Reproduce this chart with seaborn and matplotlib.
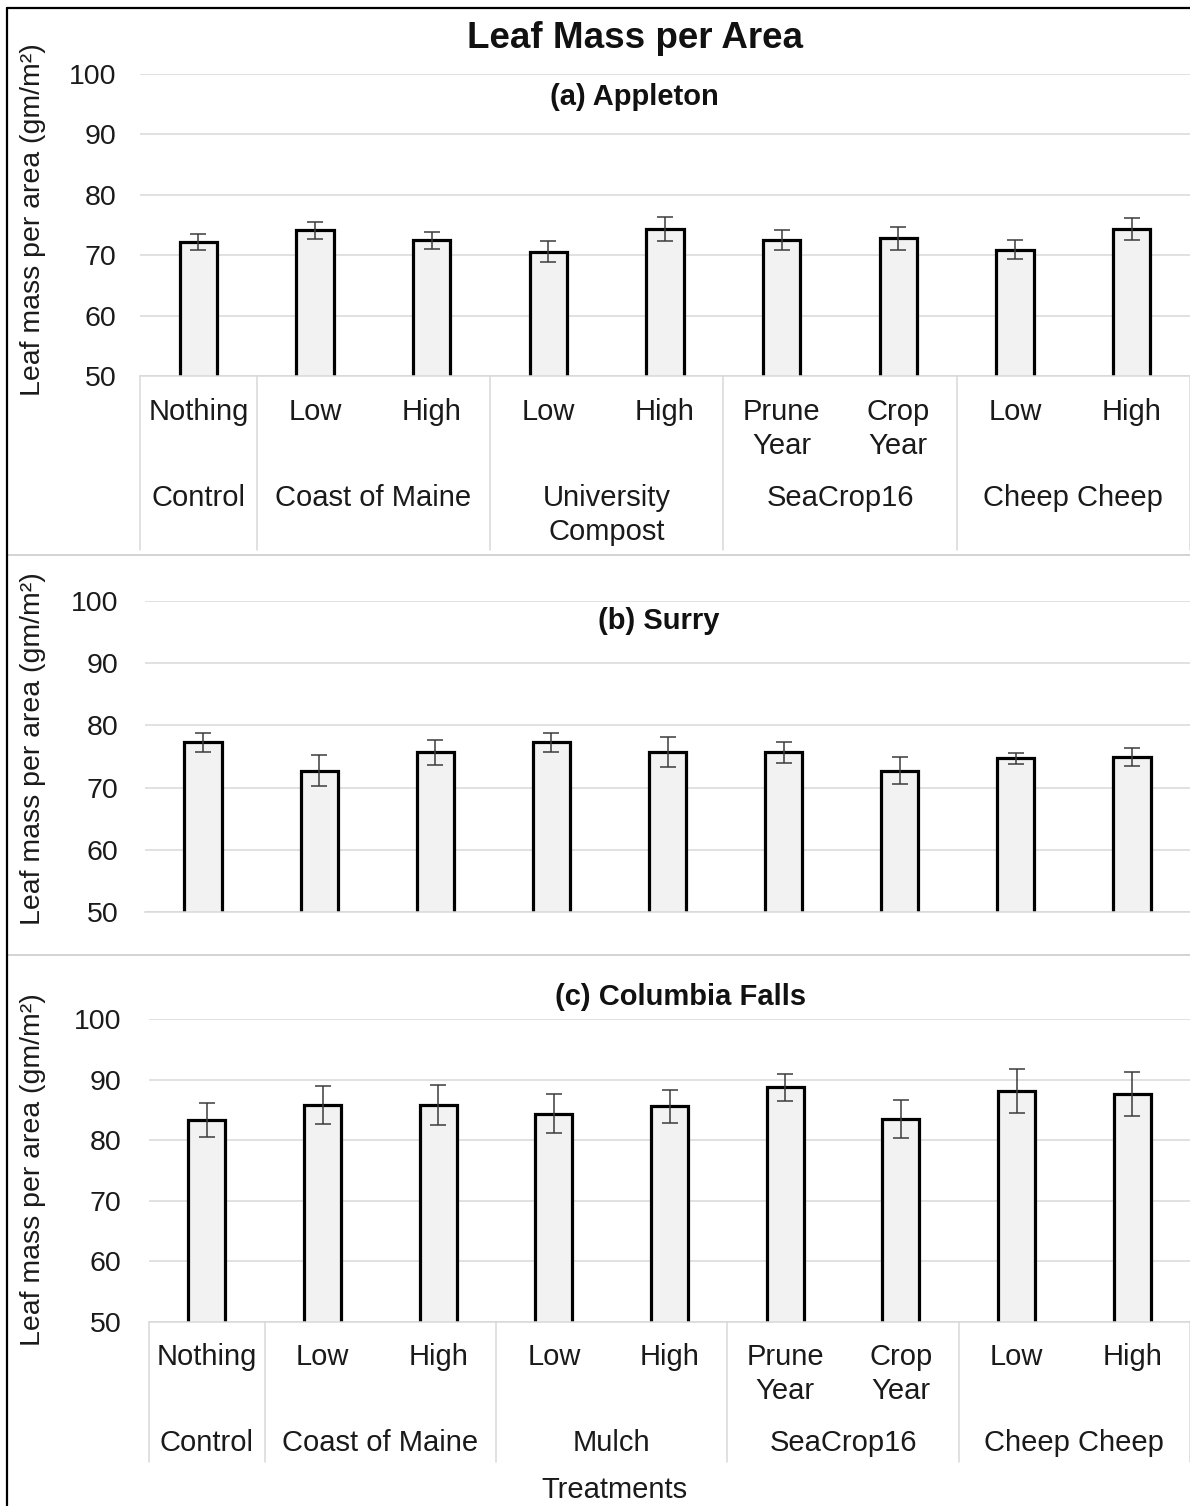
import numpy as np
import pandas as pd
import seaborn as sns
import matplotlib
matplotlib.use("Agg")
import matplotlib.pyplot as plt
from matplotlib.lines import Line2D
from matplotlib.transforms import blended_transform_factory

# ---- data -------------------------------------------------------------
treatments = ["Nothing", "Low", "High", "Low", "High",
              "Prune\nYear", "Crop\nYear", "Low", "High"]
groups_a = ["Control", "Coast of Maine", "Coast of Maine",
            "University\nCompost", "University\nCompost",
            "SeaCrop16", "SeaCrop16", "Cheep Cheep", "Cheep Cheep"]
groups_c = ["Control", "Coast of Maine", "Coast of Maine",
            "Mulch", "Mulch",
            "SeaCrop16", "SeaCrop16", "Cheep Cheep", "Cheep Cheep"]

appleton_mean = [72.2, 74.1, 72.5, 70.6, 74.3, 72.5, 72.8, 70.9, 74.3]
appleton_err = [1.3, 1.4, 1.4, 1.7, 2.0, 1.7, 1.9, 1.6, 1.8]
surry_mean = [77.3, 72.7, 75.7, 77.3, 75.7, 75.7, 72.7, 74.7, 74.9]
surry_err = [1.5, 2.5, 2.0, 1.5, 2.4, 1.7, 2.2, 0.9, 1.4]
columbia_mean = [83.4, 85.8, 85.8, 84.4, 85.6, 88.7, 83.5, 88.1, 87.6]
columbia_err = [2.8, 3.1, 3.3, 3.2, 2.7, 2.2, 3.1, 3.6, 3.6]

yticks = [50, 60, 70, 80, 90, 100]

# ---- style ------------------------------------------------------------
sns.set_theme(style="white")
plt.rcParams["font.family"] = ["Liberation Sans", "DejaVu Sans"]

W, H = 1190, 1506
fig = plt.figure(figsize=(W / 100, H / 100), dpi=100)
fig.patch.set_facecolor("white")

GRID = "#d9d9d9"
SEP = "#d0d0d0"
TXT = "#1a1a1a"


def fy(ypx):
    return 1 - ypx / H


def add_axes(l, t, r, b):
    return fig.add_axes([l / W, 1 - b / H, (r - l) / W, (b - t) / H])


def draw_panel(ax, means, errs, groups, tick_pad):
    df = pd.DataFrame({
        "key": [f"{g}|{t}" for g, t in zip(groups, treatments)],
        "lma": means,
    })
    sns.barplot(data=df, x="key", y="lma", ax=ax, color="#f2f2f2",
                saturation=1, edgecolor="black", linewidth=2.3,
                width=0.32, errorbar=None, zorder=2)
    ax.errorbar(np.arange(len(means)), means, yerr=errs, fmt="none",
                ecolor="#3c3c3c", elinewidth=1.1, capsize=5.5,
                capthick=1.1, zorder=3)
    ax.set_xlim(-0.5, len(means) - 0.5)
    ax.set_ylim(50, 100)
    ax.set_yticks(yticks)
    ax.yaxis.grid(True, color=GRID, lw=1.1)
    ax.set_axisbelow(True)
    for s in ("top", "right", "left"):
        ax.spines[s].set_visible(False)
    ax.spines["bottom"].set_color(GRID)
    ax.spines["bottom"].set_linewidth(1.1)
    ax.set_xticks([])
    ax.set_xlabel("")
    ax.set_ylabel("")
    ax.tick_params(axis="y", length=0, pad=tick_pad, labelsize=20.5,
                   labelcolor=TXT)
    ax.patch.set_alpha(0)


def draw_categories(ax, groups, top_px, row1_px, row2_px, bottom_px):
    tr = blended_transform_factory(ax.transData, fig.transFigure)
    n = len(treatments)
    for i, lab in enumerate(treatments):
        for k, line in enumerate(lab.split("\n")):
            fig.text(i, fy(row1_px + 34 * k), line, transform=tr,
                     ha="center", va="center", fontsize=21, color=TXT)
    # group spans
    bounds = [-0.5]
    spans = []
    start = 0
    for i in range(1, n + 1):
        if i == n or groups[i] != groups[start]:
            spans.append((groups[start], (start + i - 1) / 2))
            bounds.append(i - 0.5)
            start = i
    for name, cx in spans:
        for k, line in enumerate(name.split("\n")):
            fig.text(cx, fy(row2_px + 34 * k), line, transform=tr,
                     ha="center", va="center", fontsize=21, color=TXT)
    for b in bounds:
        fig.add_artist(Line2D([b, b], [fy(top_px), fy(bottom_px)],
                              transform=tr, color=GRID, lw=1.1))


def ylabel(ycenter_px):
    fig.text(33 / W, fy(ycenter_px), "Leaf mass per area (gm/m²)",
             rotation=90, ha="center", va="center", fontsize=20.5,
             color=TXT)


# ---- panel (a) Appleton ----------------------------------------------
ax_a = add_axes(140, 74, 1190, 376)
draw_panel(ax_a, appleton_mean, appleton_err, groups_a, 17)
draw_categories(ax_a, groups_a, 376, 412, 498, 550)
fig.text(634 / W, fy(97), "(a) Appleton", ha="center", va="center",
         fontsize=21, fontweight="bold", color="#111111")
ylabel(220)

# ---- panel (b) Surry -------------------------------------------------
ax_b = add_axes(145, 601, 1190, 912)
draw_panel(ax_b, surry_mean, surry_err, groups_a, 19)
fig.text(659 / W, fy(621), "(b) Surry", ha="center", va="center",
         fontsize=21, fontweight="bold", color="#111111")
ylabel(749)

# ---- panel (c) Columbia Falls ----------------------------------------
ax_c = add_axes(149, 1019, 1190, 1322)
draw_panel(ax_c, columbia_mean, columbia_err, groups_c, 20)
draw_categories(ax_c, groups_c, 1322, 1357, 1443, 1462)
fig.text(681 / W, fy(997), "(c) Columbia Falls", ha="center", va="center",
         fontsize=21, fontweight="bold", color="#111111")
ylabel(1170)

# ---- figure decorations ----------------------------------------------
fig.text(635 / W, fy(38), "Leaf Mass per Area", ha="center", va="center",
         fontsize=26.5, fontweight="bold", color="#111111")
fig.text(614 / W, fy(1490), "Treatments", ha="center", va="center",
         fontsize=21, color=TXT)

for ypx in (555, 955):
    fig.add_artist(Line2D([8 / W, 1], [fy(ypx), fy(ypx)],
                          transform=fig.transFigure, color=SEP, lw=1.3))

# frame lines along the top and left edges
fig.add_artist(Line2D([7 / W, 1], [fy(8), fy(8)],
                      transform=fig.transFigure, color="black", lw=1.6))
fig.add_artist(Line2D([7 / W, 7 / W], [fy(8), 0],
                      transform=fig.transFigure, color="black", lw=1.6))

fig.savefig("out.png", dpi=100, facecolor="white")
